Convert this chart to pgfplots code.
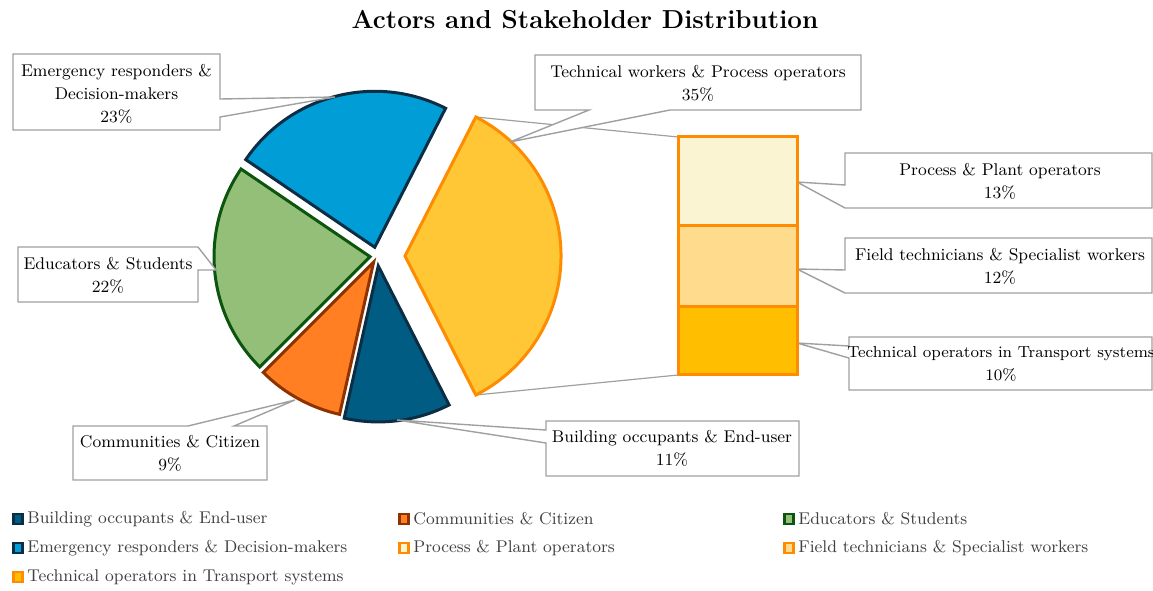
\documentclass[border=0pt]{standalone}
\usepackage{pgfplots}
\pgfplotsset{compat=1.18}

\definecolor{cbuild}{HTML}{005C82}
\definecolor{ebuild}{HTML}{0C2E44}
\definecolor{ccomm}{HTML}{FF7F22}
\definecolor{ecomm}{HTML}{8E3200}
\definecolor{cedu}{HTML}{93BF78}
\definecolor{eedu}{HTML}{0B550E}
\definecolor{cemer}{HTML}{009DD6}
\definecolor{eemer}{HTML}{0C2E44}
\definecolor{ctech}{HTML}{FFC636}
\definecolor{eorange}{HTML}{FF8C00}
\definecolor{cproc}{HTML}{FBF4D3}
\definecolor{cfield}{HTML}{FFDB8D}
\definecolor{ctrans}{HTML}{FFBF00}
\definecolor{cgray}{HTML}{A0A0A0}
\definecolor{ltext}{HTML}{404040}

\newcommand\boxfont{\fontsize{8.5}{11.5}\selectfont}

\begin{document}
\begin{tikzpicture}
% main canvas: 1 unit = 1 px of the reference
\begin{axis}[name=main, x=0.5pt, y=0.5pt, y dir=reverse,
  xmin=0, xmax=1153, ymin=0, ymax=590,
  hide axis, clip=false]

\node[font=\fontsize{13}{15}\selectfont\bfseries] at (585,20) {Actors and Stakeholder Distribution};

% pie: "other" slice (35 = 13+12+10) first, then the rest counter-clockwise
\pgfplotsextra{
  \def\cx{377}\def\cy{256}\def\R{78pt}
  \pgfmathsetmacro\other{13+12+10}
  \pgfmathsetmacro\st{-3.6*\other/2}
  \xdef\curA{\st}
  % connector lines from the exploded slice to the bar
  \draw[cgray, line width=0.6pt] ([shift={(0:14pt)}]axis cs:\cx,\cy) ++(-\st:\R) -- (axis cs:678,137);
  \draw[cgray, line width=0.6pt] ([shift={(0:14pt)}]axis cs:\cx,\cy) ++(\st:\R) -- (axis cs:678,375);
  \foreach \v/\e/\fc/\dc in {35/28/ctech/eorange, 23/9/cemer/eemer, 22/7/cedu/eedu, 9/7/ccomm/ecomm, 11/10/cbuild/ebuild}{
    \pgfmathsetmacro\a{\curA}
    \pgfmathsetmacro\b{\a+3.6*\v}
    \pgfmathsetmacro\m{(\a+\b)/2}
    \draw[line width=1.5pt, fill=\fc, draw=\dc]
      ([shift={(\m:\e*0.5pt)}]axis cs:\cx,\cy) -- ++(\a:\R)
      arc[start angle=\a, end angle=\b, radius=\R] -- cycle;
    \xdef\curA{\b}
  }
}

\coordinate (barSW) at (678,375);

% callouts
\begin{scope}[cgray, line width=0.7pt, fill=white]
\filldraw (13,54) -- (220,54) -- (220,99) -- (335,97) -- (220,117) -- (220,130) -- (13,130) -- cycle;
\filldraw (18,247) -- (198,247) -- (216,270) -- (198,270) -- (198,302) -- (18,302) -- cycle;
\filldraw (73,426) -- (188,426) -- (295,400) -- (234,426) -- (267,426) -- (267,480) -- (73,480) -- cycle;
\filldraw (546,421) -- (799,421) -- (799,476) -- (546,476) -- (546,443) -- (397,420) -- (546,430) -- cycle;
\filldraw (535,55) -- (861,55) -- (861,110) -- (670,110) -- (510,142) -- (589,110) -- (535,110) -- cycle;
\filldraw (845,153) -- (1152,153) -- (1152,208) -- (845,208) -- (797,182) -- (845,185) -- cycle;
\filldraw (845,238) -- (1152,238) -- (1152,293) -- (845,293) -- (797,269) -- (845,270) -- cycle;
\filldraw (849,337) -- (1152,337) -- (1152,390) -- (849,390) -- (849,358) -- (797,343) -- (849,346) -- cycle;
\end{scope}

\begin{scope}[every node/.style={align=center, font=\boxfont}]
\node at (116.5,94) {Emergency responders \&\\Decision-makers\\23\%};
\node at (108,275) {Educators \& Students\\22\%};
\node at (170,453) {Communities \& Citizen\\9\%};
\node at (672,448) {Building occupants \& End-user\\11\%};
\node at (698,83) {Technical workers \& Process operators\\35\%};
\node at (1000,181) {Process \& Plant operators\\13\%};
\node at (1000,266) {Field technicians \& Specialist workers\\12\%};
\node[font=\fontsize{8}{11.5}\selectfont] at (1001,364) {Technical operators in Transport systems\\10\%};
\end{scope}

% legend
\pgfplotsextra{
\foreach \x/\y/\fc/\dc/\t in {
  12/519/cbuild/ebuild/{Building occupants \& End-user},
  398/519/ccomm/ecomm/{Communities \& Citizen},
  783/519/cedu/eedu/{Educators \& Students},
  12/548/cemer/eemer/{Emergency responders \& Decision-makers},
  398/548/cproc/eorange/{Process \& Plant operators},
  783/548/cfield/eorange/{Field technicians \& Specialist workers},
  12/577/ctrans/eorange/{Technical operators in Transport systems}}{
  \filldraw[line width=1.1pt, draw=\dc, fill=\fc] (axis cs:\x+1.5,\y-5) rectangle (axis cs:\x+10.5,\y+5);
  \node[anchor=west, font=\boxfont, text=ltext, inner sep=0pt] at (axis cs:\x+15,\y) {\t};
}
}
\end{axis}

% bar of the "other" slice
\begin{axis}[at={(barSW)}, anchor=south west, scale only axis,
  width=59.5pt, height=119pt, xmin=0, xmax=1, ymin=0, ymax=35,
  hide axis, clip=false, ybar stacked, bar width=59.5pt]
\addplot[fill=ctrans, draw=eorange, line width=1.5pt] coordinates {(0.5,10)};
\addplot[fill=cfield, draw=eorange, line width=1.5pt] coordinates {(0.5,12)};
\addplot[fill=cproc, draw=eorange, line width=1.5pt] coordinates {(0.5,13)};
\end{axis}

\pgfresetboundingbox
\path (main.south west) rectangle (main.north east);
\end{tikzpicture}
\end{document}
